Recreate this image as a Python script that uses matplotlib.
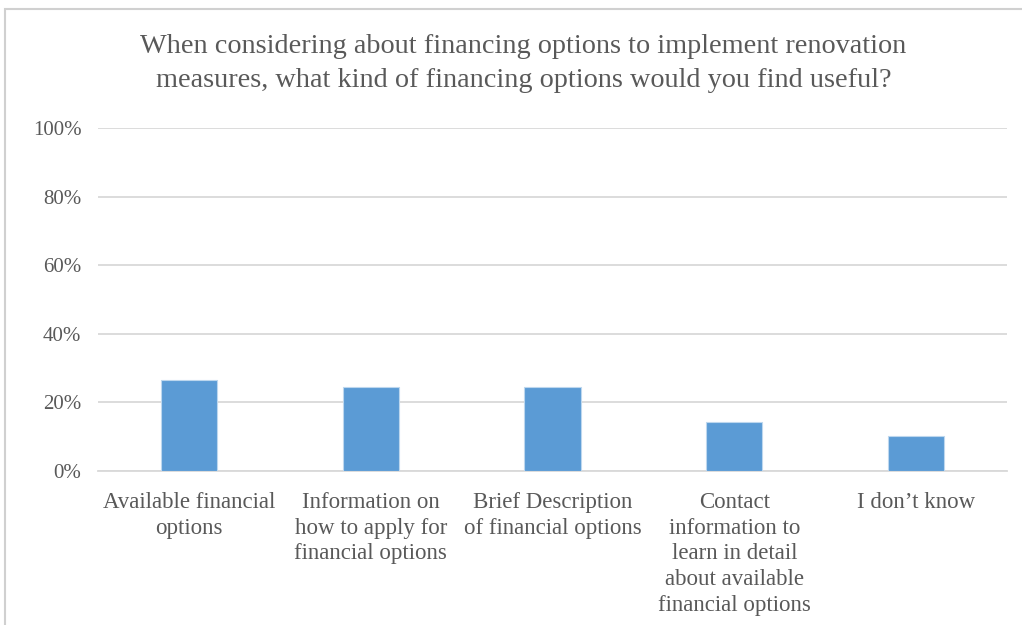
import matplotlib.pyplot as plt
from matplotlib.patches import Rectangle
from matplotlib.ticker import PercentFormatter

plt.rcParams['font.family'] = ['Liberation Serif', 'DejaVu Serif']

CATEGORIES = [
    "Available financial\noptions",
    "Information on\nhow to apply for\nfinancial options",
    "Brief Description\nof financial options",
    "Contact\ninformation to\nlearn in detail\nabout available\nfinancial options",
    "I don\u2019t know",
]
SHARES = [0.266, 0.245, 0.245, 0.144, 0.101]
Y_TICKS = [0, 0.2, 0.4, 0.6, 0.8, 1.0]

TEXT_COLOR = "#595959"
GRID_COLOR = "#d9d9d9"
BAR_COLOR = "#5b9bd5"

fig = plt.figure(figsize=(10.22, 6.25), dpi=100)

# light frame around the chart area
fig.add_artist(Rectangle((0.005, -0.05), 1.2, 1.035, transform=fig.transFigure,
                         fill=False, edgecolor="#d0d0d0", linewidth=1.5))

ax = fig.add_axes([0.0959, 0.2464, 0.8894, 0.5488])
x = range(len(CATEGORIES))
ax.bar(x, SHARES, width=0.31, color=BAR_COLOR, edgecolor="#bdd7ee",
       linewidth=0.8, zorder=3)

ax.set_xlim(-0.5, len(CATEGORIES) - 0.5)
ax.set_ylim(0, 1.0)
ax.set_yticks(Y_TICKS)
ax.yaxis.set_major_formatter(PercentFormatter(1.0, decimals=0))
ax.set_xticks(list(x))
ax.set_xticklabels(CATEGORIES, fontsize=16.5, color=TEXT_COLOR,
                   linespacing=1.3)
ax.tick_params(axis='y', labelsize=15, labelcolor=TEXT_COLOR, length=0, pad=12)
ax.tick_params(axis='x', length=0, pad=15)

ax.grid(axis='y', color=GRID_COLOR, linewidth=1.3, zorder=0)
for side in ["left", "right", "top"]:
    ax.spines[side].set_visible(False)
ax.spines["bottom"].set_color(GRID_COLOR)
ax.spines["bottom"].set_linewidth(1.3)

fig.text(0.512, 0.898,
         "When considering about financing options to implement renovation\n"
         "measures, what kind of financing options would you find useful?",
         ha="center", va="center", fontsize=20.3, color=TEXT_COLOR,
         linespacing=1.48)

fig.savefig("out.png", dpi=100)
